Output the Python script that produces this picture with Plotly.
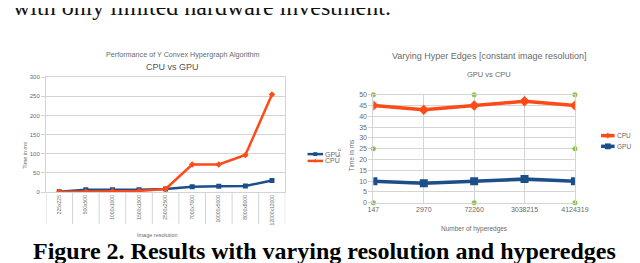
import plotly.graph_objects as go

# ---------------- data ----------------
res_categories = ["225x225", "500x500", "1000x1000", "1500x1500", "2500x2500",
                  "7000x7000", "10000x5000", "8000x8000", "12000x12000"]
res_gpu = [1, 6, 6, 6, 8, 14, 15, 16, 30]
res_cpu = [0, 1, 2, 3, 8, 72, 72, 97, 255]

edge_categories = ["147", "2970", "72260", "3038215", "4124319"]
edge_cpu = [45, 43, 45, 47, 45]
edge_gpu = [10, 9, 10, 11, 10]

# green selection handles on the right chart
handle_x = ["147", "72260", "4124319", "147", "4124319", "147", "72260", "4124319"]
handle_y = [50, 50, 50, 25, 25, 0, 0, 0]

BLUE = "#1b4f8a"
ORANGE = "#ff4a17"
GRID = "#d4d4d4"
TXT = "#6a6a6a"
FONT = "Liberation Sans, Arial, sans-serif"
SERIF = "Liberation Serif, Times New Roman, serif"

W, H = 640, 263
def px(x):
    return x / W
def py(y):
    return 1 - y / H

fig = go.Figure()

# left chart
fig.add_trace(go.Scatter(x=res_categories, y=res_gpu, name="GPU", mode="lines+markers",
                         line=dict(color=BLUE, width=2.5), marker=dict(symbol="square", size=5, color=BLUE),
                         xaxis="x", yaxis="y", showlegend=False))
fig.add_trace(go.Scatter(x=res_categories, y=res_cpu, name="CPU", mode="lines+markers",
                         line=dict(color=ORANGE, width=2.5), marker=dict(symbol="diamond", size=5, color=ORANGE),
                         xaxis="x", yaxis="y", showlegend=False))

# right chart
fig.add_trace(go.Scatter(x=edge_categories, y=edge_cpu, name="CPU", mode="lines+markers",
                         line=dict(color=ORANGE, width=3.5), marker=dict(symbol="diamond", size=8, color=ORANGE),
                         xaxis="x2", yaxis="y2", showlegend=False))
fig.add_trace(go.Scatter(x=edge_categories, y=edge_gpu, name="GPU", mode="lines+markers",
                         line=dict(color=BLUE, width=3.5), marker=dict(symbol="square", size=8, color=BLUE),
                         xaxis="x2", yaxis="y2", showlegend=False))
fig.add_trace(go.Scatter(x=handle_x, y=handle_y, mode="markers",
                         marker=dict(symbol="circle", size=5, color="#8cc34a"),
                         xaxis="x2", yaxis="y2", showlegend=False, cliponaxis=False))

shapes = []
# category separators below left x axis
for i in range(len(res_categories) + 1):
    shapes.append(dict(type="line", xref="x", yref="paper", x0=i - 0.5, x1=i - 0.5,
                       y0=py(185), y1=py(218), line=dict(color=GRID, width=1)))

annotations = []

def legend_item(x0, y, color, symbol, label, lw, ms, length, size):
    shapes.append(dict(type="line", xref="paper", yref="paper", x0=px(x0), x1=px(x0 + length),
                       y0=py(y), y1=py(y), line=dict(color=color, width=lw)))
    cx = x0 + length / 2
    if symbol == "square":
        shapes.append(dict(type="rect", xref="paper", yref="paper", x0=px(cx - ms / 2), x1=px(cx + ms / 2),
                           y0=py(y + ms / 2), y1=py(y - ms / 2), fillcolor=color, line=dict(width=0)))
    else:
        h = ms / 2
        path = "M {} {} L {} {} L {} {} L {} {} Z".format(px(cx - h), py(y), px(cx), py(y - h),
                                                         px(cx + h), py(y), px(cx), py(y + h))
        shapes.append(dict(type="path", xref="paper", yref="paper", path=path, fillcolor=color,
                           line=dict(width=0)))
    annotations.append(dict(xref="paper", yref="paper", x=px(x0 + length), y=py(y), text=label,
                            showarrow=False, xanchor="left", yanchor="middle",
                            font=dict(family=FONT, size=size, color=TXT)))

legend_item(303, 146, BLUE, "square", "GPU", 2.5, 4, 16, 7)
legend_item(303, 153, ORANGE, "diamond", "CPU", 2.5, 4, 16, 7)
legend_item(606, 127, ORANGE, "diamond", "CPU", 3.5, 6, 14, 6.5)
legend_item(606, 138, BLUE, "square", "GPU", 3.5, 6, 14, 6.5)

def txt(x, y, s, size, color=TXT, family=FONT, angle=0, xanchor="center", bold=False):
    if bold:
        s = "<b>" + s + "</b>"
    annotations.append(dict(xref="paper", yref="paper", x=px(x), y=py(y), text=s, showarrow=False,
                            xanchor=xanchor, yanchor="middle", textangle=angle,
                            font=dict(family=family, size=size, color=color)))

# titles
txt(174, 44, "Performance of Y Convex Hypergraph Algorithm", 7.2)
txt(164, 57, "CPU vs GPU", 9, color="#555555")
txt(490, 45, "Varying Hyper Edges [constant image resolution]", 9)
txt(490, 64, "GPU vs CPU", 7.5)
# axis titles
txt(11, 147, "Time in ms", 5.5, angle=-90)
txt(148, 229, "Image resolution", 5.5)
txt(348, 147, "Time in ms", 6.5, angle=-90)
txt(336, 145, "r  c", 6, angle=-90)
txt(475, 223, "Number of hyperedges", 6.5)
# page text
txt(-3, -5, "with only limited hardware investment.", 24, color="#111111", family=SERIF, xanchor="left")
txt(320, 246, "Figure 2. Results with varying resolution and hyperedges", 24, color="#000000",
    family=SERIF, bold=True)

axis_common = dict(showline=True, linecolor=GRID, linewidth=1, mirror=True, zeroline=False)

fig.update_layout(
    width=W, height=H,
    margin=dict(l=0, r=0, t=0, b=0),
    paper_bgcolor="white", plot_bgcolor="white",
    showlegend=False,
    xaxis=dict(domain=[px(33), px(280)], type="category", categoryorder="array",
               categoryarray=res_categories, range=[-0.5, 8.5], tickangle=-90, showgrid=False,
               ticks="", anchor="y", tickfont=dict(family=FONT, color=TXT, size=5), **axis_common),
    yaxis=dict(domain=[py(185), py(67)], range=[0, 300], dtick=50, showgrid=True, gridcolor=GRID,
               ticks="outside", ticklen=4, tickcolor=GRID, anchor="x",
               tickfont=dict(family=FONT, color=TXT, size=6), **axis_common),
    xaxis2=dict(domain=[px(371), px(579)], type="category", categoryorder="array",
                categoryarray=edge_categories, range=[0, 4], showgrid=True, gridcolor=GRID,
                ticks="", anchor="y2", tickfont=dict(family=FONT, color=TXT, size=7), **axis_common),
    yaxis2=dict(domain=[py(196), py(85)], range=[0, 50], dtick=5, showgrid=True, gridcolor=GRID,
                ticks="outside", ticklen=4, tickcolor=GRID, anchor="x2",
                tickfont=dict(family=FONT, color=TXT, size=7), **axis_common),
    shapes=shapes,
    annotations=annotations,
)

fig.write_html("out.html")
